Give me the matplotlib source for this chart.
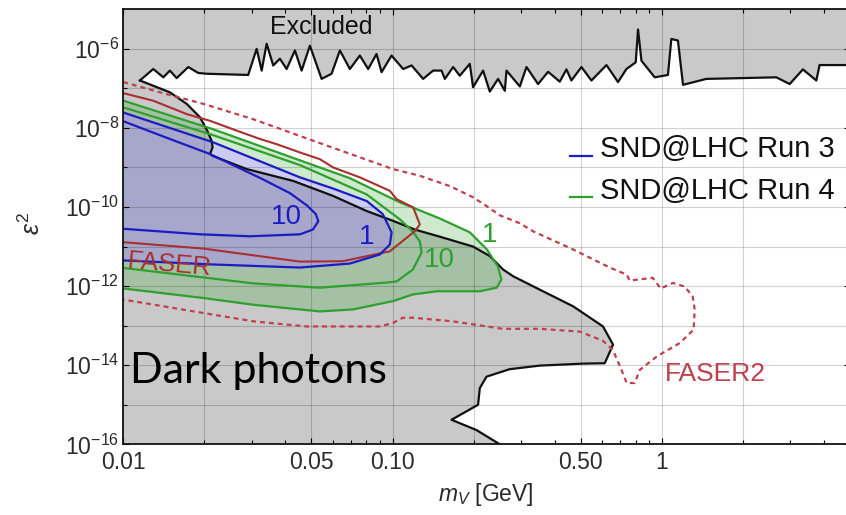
import numpy as np
import matplotlib
matplotlib.use("Agg")
import matplotlib.pyplot as plt
from matplotlib.patches import Polygon, Rectangle
from matplotlib.lines import Line2D
from matplotlib.ticker import FixedLocator, NullFormatter

plt.rcParams['font.family'] = ['Liberation Sans', 'DejaVu Sans']
plt.rcParams['mathtext.fontset'] = 'custom'
plt.rcParams['mathtext.rm'] = 'Liberation Sans'
plt.rcParams['mathtext.it'] = 'Liberation Sans:italic'
plt.rcParams['mathtext.bf'] = 'Liberation Sans:bold'

# ---- data: dark photon mass m_V [GeV] and log10(eps^2) ----
# upper excluded region (prompt-decay searches), lower edge
mass_upper = [0.01153, 0.01292, 0.01408, 0.0149, 0.01578, 0.01743, 0.01898, 0.0204, 0.0291,
              0.03128, 0.03265, 0.03407, 0.03604, 0.03816, 0.04042, 0.04339, 0.04595, 0.04932,
              0.05452, 0.05937, 0.06374, 0.06942, 0.0756, 0.08118, 0.08721, 0.09105, 0.09915,
              0.1095, 0.1177, 0.1299, 0.1415, 0.152, 0.1564, 0.1679, 0.1777, 0.1936, 0.1991,
              0.2169, 0.2297, 0.2466, 0.2612, 0.265, 0.2969, 0.3144, 0.3472, 0.3782, 0.4178,
              0.4424, 0.4617, 0.503, 0.5479, 0.623, 0.6879, 0.7389, 0.8002, 0.816, 0.8403,
              0.9412, 1.054, 1.085, 1.148, 1.199, 1.464, 2.664, 2.985, 3.343, 3.749, 3.855, 5.0]
log_eps2_upper = [-6.80, -6.51, -6.72, -6.55, -6.74, -6.46, -6.61, -6.63, -6.66, -6.00, -6.55,
                  -5.87, -6.42, -6.25, -6.51, -6.04, -6.55, -5.92, -6.76, -6.63, -6.04, -6.51,
                  -6.17, -6.51, -6.13, -6.59, -6.17, -6.51, -6.42, -6.76, -6.55, -6.55, -6.76,
                  -6.46, -6.68, -6.38, -6.97, -6.55, -7.08, -6.76, -7.06, -6.55, -6.95, -6.46,
                  -6.89, -6.58, -6.83, -6.52, -6.80, -6.46, -6.80, -6.41, -6.84, -6.51, -6.34,
                  -5.51, -6.30, -6.72, -6.66, -5.75, -5.79, -6.91, -6.76, -6.72, -6.89, -6.52,
                  -6.80, -6.41, -6.41]

# lower excluded region (beam dumps / supernova), upper edge
mass_lower = [0.01153, 0.0149, 0.01719, 0.01927, 0.0205, 0.02129, 0.02147, 0.02098, 0.02153,
              0.02872, 0.04276, 0.06019, 0.08009, 0.1005, 0.1210, 0.1498, 0.1991, 0.2297,
              0.2573, 0.2804, 0.3523, 0.4683, 0.6049, 0.6592, 0.6138, 0.5098, 0.3523, 0.2725,
              0.2233, 0.2109, 0.2078, 0.1656, 0.2050, 0.2502]
log_eps2_lower = [-6.80, -7.10, -7.39, -7.73, -8.07, -8.33, -8.49, -8.66, -8.71, -9.04, -9.34,
                  -9.72, -10.10, -10.35, -10.57, -10.75, -11.00, -11.24, -11.58, -11.75, -12.09,
                  -12.51, -13.02, -13.48, -13.95, -13.96, -14.01, -14.10, -14.29, -14.58, -15.00,
                  -15.38, -15.64, -16.00]

# SND@LHC Run 3, 1 and 10 event contours
mass_run3_1 = [0.0100, 0.0215, 0.0453, 0.0600, 0.0803, 0.0920, 0.0992, 0.0977, 0.0897, 0.0694,
               0.0453, 0.0210, 0.0100]
log_eps2_run3_1 = [-7.61, -8.36, -9.25, -9.53, -9.85, -10.18, -10.64, -10.95, -11.20, -11.43,
                   -11.53, -11.45, -11.35]
mass_run3_10 = [0.0100, 0.0149, 0.0210, 0.0330, 0.0416, 0.0481, 0.0519, 0.0530, 0.0506, 0.0453,
                0.0295, 0.0193, 0.0100]
log_eps2_run3_10 = [-7.83, -8.28, -8.66, -9.30, -9.65, -9.96, -10.18, -10.36, -10.57, -10.69,
                    -10.74, -10.69, -10.55]

# SND@LHC Run 4, 1 and 10 event contours
mass_run4_1 = [0.0100, 0.0215, 0.0453, 0.0694, 0.1064, 0.1498, 0.1936, 0.2239, 0.2459, 0.2538,
               0.2438, 0.2109, 0.1460, 0.1190, 0.1003, 0.0712, 0.0537, 0.0303, 0.0198, 0.0100]
log_eps2_run4_1 = [-7.31, -8.03, -8.82, -9.27, -9.88, -10.29, -10.64, -11.07, -11.50, -11.83,
                   -12.04, -12.13, -12.13, -12.21, -12.38, -12.59, -12.64, -12.47, -12.30, -12.06]
mass_run4_10 = [0.0100, 0.0215, 0.0453, 0.0801, 0.1064, 0.1190, 0.1263, 0.1282, 0.1190, 0.1037,
                0.0952, 0.0537, 0.0303, 0.0198, 0.0100]
log_eps2_run4_10 = [-7.48, -8.18, -8.94, -9.68, -10.31, -10.62, -10.87, -11.15, -11.58, -11.88,
                    -11.91, -12.04, -11.93, -11.78, -11.54]

# FASER and FASER2 reach
mass_faser = [0.0100, 0.0129, 0.0172, 0.0210, 0.0264, 0.0322, 0.0371, 0.0453, 0.0537, 0.0602,
              0.0756, 0.0860, 0.0977, 0.1035, 0.1193, 0.1263, 0.1210, 0.0977, 0.0653, 0.0453,
              0.0198, 0.0100]
log_eps2_faser = [-7.12, -7.31, -7.65, -7.82, -8.07, -8.28, -8.41, -8.62, -8.79, -9.00, -9.25,
                  -9.42, -9.59, -9.80, -10.01, -10.44, -10.61, -11.12, -11.37, -11.38, -11.05,
                  -10.89]
mass_faser2 = [0.0100, 0.0137, 0.0198, 0.0304, 0.0561, 0.1003, 0.1263, 0.1632, 0.1986, 0.2239,
               0.2502, 0.2969, 0.3318, 0.4671, 0.6406, 0.7408, 0.7600, 0.8279, 0.9253, 0.9906,
               1.098, 1.216, 1.302, 1.325, 1.313, 1.166, 0.9574, 0.8279, 0.7935, 0.7408, 0.7038,
               0.6575, 0.6035, 0.4957, 0.3523, 0.2567, 0.1674, 0.1190, 0.1092, 0.1005, 0.0897,
               0.0480, 0.0304, 0.0198, 0.0100]
log_eps2_faser2 = [-6.84, -7.10, -7.39, -7.78, -8.43, -9.04, -9.21, -9.47, -9.75, -9.98, -10.21,
                   -10.41, -10.61, -11.07, -11.53, -11.71, -11.86, -11.83, -11.79, -12.06, -11.92,
                   -12.01, -12.26, -12.59, -13.10, -13.44, -13.78, -14.12, -14.45, -14.45, -14.07,
                   -13.61, -13.38, -13.15, -13.08, -13.08, -12.89, -12.80, -12.80, -12.93, -13.02,
                   -13.02, -12.89, -12.68, -12.34]

x_ticks = [0.01, 0.05, 0.1, 0.5, 1, 5]
x_tick_labels = ['0.01', '0.05', '0.10', '0.50', '1', '5']
y_tick_exponents = [-16, -14, -12, -10, -8, -6]

GREY = '#c9c9c9'
BLUE = '#1c1cc4'
GREEN = '#2ea02e'
RED = '#a8302e'
RED2 = '#c04050'


def pts(m, le):
    return np.column_stack([np.asarray(m, float), 10.0 ** np.asarray(le, float)])


fig = plt.figure(figsize=(8.46, 5.15), dpi=100)
ax = fig.add_axes([0.14574, 0.13728, 0.85898, 0.84466])
ax.set_xscale('log')
ax.set_yscale('log')
ax.set_xlim(0.01, 5)
ax.set_ylim(1e-16, 1e-5)
ax.set_facecolor(GREY)

# allowed (white) window between the two excluded regions
upper = pts(mass_upper, log_eps2_upper)
lower = pts(mass_lower, log_eps2_lower)
window = np.vstack([upper, [[5.0, 1e-16]], lower[::-1]])
ax.add_patch(Polygon(window, closed=True, facecolor='white', edgecolor='none', zorder=0.2))

# Run 4 region
run4 = pts(mass_run4_1, log_eps2_run4_1)
ax.add_patch(Polygon(run4, closed=True, facecolor=(0.24, 0.67, 0.24), alpha=0.25,
                     edgecolor='none', zorder=0.3))

# Run 3 region sits on top of a clean copy of the background
run3 = pts(mass_run3_1, log_eps2_run3_1)
run3_patch = Polygon(run3, closed=True, facecolor=(0.35, 0.35, 0.82), alpha=0.30,
                     edgecolor='none', zorder=0.6)
ax.add_patch(run3_patch)
bg = Rectangle((0, 0), 1, 1, transform=ax.transAxes, facecolor=GREY, edgecolor='none', zorder=0.4)
ax.add_patch(bg)
bg.set_clip_path(run3_patch)
win2 = Polygon(window, closed=True, facecolor='white', edgecolor='none', zorder=0.45)
ax.add_patch(win2)
win2.set_clip_path(run3_patch)

# grid
for v in [0.02, 0.05, 0.1, 0.2, 0.5, 1, 2]:
    ax.axvline(v, color='black', alpha=0.18, lw=0.8, zorder=0.8)
for k in range(-15, -5):
    ax.axhline(10.0 ** k, color='black', alpha=0.18, lw=0.8, zorder=0.8)

# excluded-region boundaries
ax.plot(upper[:, 0], upper[:, 1], color='#111111', lw=1.6, zorder=2)
ax.plot(lower[:, 0], lower[:, 1], color='#111111', lw=1.6, zorder=2)

# sensitivity contours
closed = lambda a: np.vstack([a, a[:1]])
ax.plot(*pts(mass_run4_1, log_eps2_run4_1).T, color=GREEN, lw=1.6, zorder=2.2)
ax.plot(*pts(mass_run4_10, log_eps2_run4_10).T, color=GREEN, lw=1.6, zorder=2.2)
ax.plot(*pts(mass_faser, log_eps2_faser).T, color=RED, lw=1.5, zorder=2.3)
ax.plot(*pts(mass_run3_1, log_eps2_run3_1).T, color=BLUE, lw=1.6, zorder=2.4)
ax.plot(*pts(mass_run3_10, log_eps2_run3_10).T, color=BLUE, lw=1.6, zorder=2.4)
ax.plot(*pts(mass_faser2, log_eps2_faser2).T, color=RED2, lw=1.6, ls=(0, (2.2, 1.8)), zorder=2.5)

# labels on the plot
ax.text(0.0544, 10 ** -5.45, 'Excluded', fontsize=18, ha='center', va='center', color='#111111', zorder=3)
ax.text(0.0402, 10 ** -10.26, '10', fontsize=20, ha='center', va='center', color=BLUE, zorder=3)
ax.text(0.0801, 10 ** -10.76, '1', fontsize=20, ha='center', va='center', color=BLUE, zorder=3)
ax.text(0.2290, 10 ** -10.70, '1', fontsize=20, ha='center', va='center', color=GREEN, zorder=3)
ax.text(0.1498, 10 ** -11.35, '10', fontsize=20, ha='center', va='center', color=GREEN, zorder=3)
ax.text(0.0149, 10 ** -11.45, 'FASER', fontsize=18.5, ha='center', va='center', color=RED,
        rotation=-5, zorder=3)
ax.text(1.578, 10 ** -14.22, 'FASER2', fontsize=19, ha='center', va='center', color=RED2, zorder=3)
ax.text(0.01059, 10 ** -14.445, 'Dark photons', fontsize=31, ha='left', va='baseline',
        color='black', family=['Lato', 'DejaVu Sans'], zorder=3)

# legend
for yl, yt, col, lab in [(0.6634, 0.6612, BLUE, 'SND@LHC Run 3'),
                         (0.5692, 0.5639, GREEN, 'SND@LHC Run 4')]:
    ax.add_line(Line2D([0.6147, 0.6450], [yl, yl], transform=ax.transAxes, color=col, lw=1.6, zorder=3))
    ax.text(0.656, yt, lab, transform=ax.transAxes, fontsize=21, ha='left', va='baseline',
            color='#111111', zorder=3)

# axes, ticks
ax.set_xticks(x_ticks)
ax.set_xticklabels(x_tick_labels)
x_minor = [k * 10.0 ** d for d in (-2, -1, 0) for k in range(2, 10) if k * 10.0 ** d < 5]
ax.xaxis.set_minor_locator(FixedLocator(x_minor))
ax.xaxis.set_minor_formatter(NullFormatter())
ax.set_yticks([10.0 ** e for e in y_tick_exponents])
ax.set_yticklabels([r'$10^{%d}$' % e for e in y_tick_exponents])
ax.yaxis.set_minor_locator(FixedLocator([10.0 ** e for e in range(-15, -5, 2)]))
ax.yaxis.set_minor_formatter(NullFormatter())
ax.tick_params(which='both', direction='in', top=True, right=True, width=0.8, labelsize=16.5,
               labelcolor='#2a2a2a')
ax.tick_params(which='major', length=4.5)
ax.tick_params(which='minor', length=3)
ax.tick_params(axis='x', pad=5)
ax.tick_params(axis='y', pad=3)
for s in ax.spines.values():
    s.set_linewidth(1.3)
    s.set_color('#111111')

fig.text(486 / 846, 1 - 495 / 515, r'$m_V$ [GeV]', fontsize=16.5, ha='center', va='center', color='#2a2a2a')
fig.text(32 / 846, 1 - 223 / 515, r'$\varepsilon^2$', fontsize=18, ha='center', va='center',
         rotation=90, color='#2a2a2a')

fig.savefig('out.png', dpi=100)
